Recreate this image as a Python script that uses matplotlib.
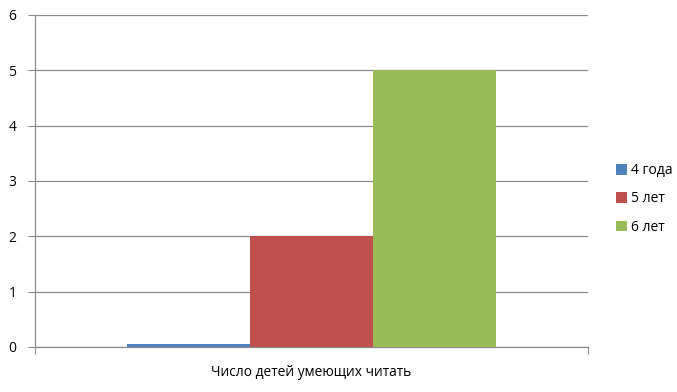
import matplotlib
matplotlib.use("Agg")
import matplotlib.pyplot as plt
from matplotlib.patches import Patch

category = ["Число детей умеющих читать"]
series_names = ["4 года", "5 лет", "6 лет"]
series_values = [0.05, 2, 5]
colors = ["#4F81BD", "#C0504D", "#9BBB59"]
yticks = [0, 1, 2, 3, 4, 5, 6]

plt.rcParams['font.family'] = ['Open Sans', 'DejaVu Sans']

fig = plt.figure(figsize=(6.77, 3.92), dpi=100)
W, H = 677, 392
ax = fig.add_axes([34.5 / W, (H - 347) / H, (588 - 34.5) / W, (347 - 15) / H])

bw = 2 / 9
n = len(series_values)
for i, (name, v, c) in enumerate(zip(series_names, series_values, colors)):
    x = (i - (n - 1) / 2) * bw
    ax.bar(x, v, width=bw, color=c, label=name, zorder=3, linewidth=0)

ax.set_xlim(-0.5, 0.5)
ax.set_ylim(0, 6)
ax.set_yticks(yticks)
ax.set_yticklabels([str(t) for t in yticks], fontsize=10)
ax.set_xticks([-0.5, 0.5])
ax.set_xticklabels(["", ""])
ax.tick_params(axis='x', length=5, color='#8C8C8C', direction='out')
ax.tick_params(axis='y', length=5, color='#8C8C8C', direction='out', pad=8)
ax.grid(axis='y', color='#8C8C8C', linewidth=0.9, zorder=0)
for s in ['top', 'right']:
    ax.spines[s].set_visible(False)
for s in ['left', 'bottom']:
    ax.spines[s].set_color('#8C8C8C')
    ax.spines[s].set_linewidth(0.9)

fig.text(311 / W, 1 - 373 / H, category[0], ha='center', va='center', fontsize=9.9)

handles = [Patch(facecolor=c, edgecolor='none', label=nm) for nm, c in zip(series_names, colors)]
fig.legend(handles=handles, loc='center left', bbox_to_anchor=(603 / W, 1 - 199 / H),
           frameon=False, fontsize=10, handlelength=0.8, handleheight=0.8,
           handletextpad=0.3, labelspacing=0.95)

fig.savefig("out.png", dpi=100)
